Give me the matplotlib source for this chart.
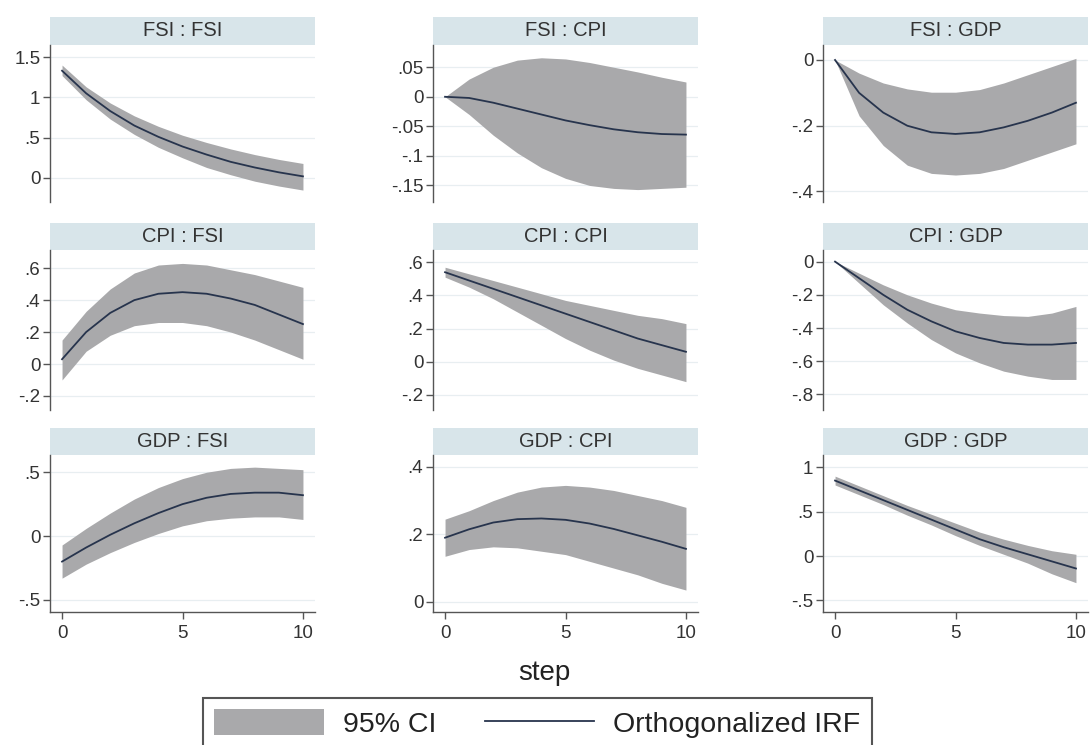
import matplotlib
matplotlib.use('Agg')
import matplotlib.pyplot as plt
from matplotlib.patches import Patch
from matplotlib.lines import Line2D

plt.rcParams['font.family'] = ['Liberation Sans', 'DejaVu Sans']

# impulse response data (steps 0..10)
steps = [0, 1, 2, 3, 4, 5, 6, 7, 8, 9, 10]

fsi_fsi_irf = [1.33, 1.05, 0.83, 0.65, 0.51, 0.39, 0.29, 0.20, 0.13, 0.07, 0.02]
fsi_fsi_lo = [1.27, 0.97, 0.73, 0.54, 0.38, 0.25, 0.13, 0.04, -0.04, -0.10, -0.15]
fsi_fsi_hi = [1.40, 1.13, 0.93, 0.77, 0.64, 0.53, 0.44, 0.36, 0.29, 0.23, 0.18]

fsi_cpi_irf = [0.0, -0.002, -0.010, -0.020, -0.030, -0.040, -0.048, -0.055, -0.060, -0.063, -0.064]
fsi_cpi_lo = [0.0, -0.030, -0.065, -0.095, -0.120, -0.138, -0.150, -0.155, -0.157, -0.155, -0.153]
fsi_cpi_hi = [0.0, 0.030, 0.050, 0.062, 0.066, 0.064, 0.058, 0.050, 0.042, 0.033, 0.025]

fsi_gdp_irf = [0.0, -0.10, -0.16, -0.20, -0.22, -0.225, -0.22, -0.205, -0.185, -0.16, -0.13]
fsi_gdp_lo = [0.0, -0.17, -0.26, -0.32, -0.345, -0.35, -0.345, -0.33, -0.305, -0.28, -0.255]
fsi_gdp_hi = [0.0, -0.04, -0.07, -0.088, -0.098, -0.098, -0.09, -0.07, -0.045, -0.02, 0.005]

cpi_fsi_irf = [0.03, 0.20, 0.32, 0.40, 0.44, 0.45, 0.44, 0.41, 0.37, 0.31, 0.25]
cpi_fsi_lo = [-0.10, 0.08, 0.18, 0.24, 0.26, 0.26, 0.24, 0.20, 0.15, 0.09, 0.03]
cpi_fsi_hi = [0.15, 0.33, 0.47, 0.57, 0.62, 0.63, 0.62, 0.59, 0.56, 0.52, 0.48]

cpi_cpi_irf = [0.54, 0.49, 0.44, 0.39, 0.34, 0.29, 0.24, 0.19, 0.14, 0.10, 0.06]
cpi_cpi_lo = [0.51, 0.45, 0.38, 0.30, 0.22, 0.14, 0.07, 0.01, -0.04, -0.08, -0.12]
cpi_cpi_hi = [0.57, 0.53, 0.49, 0.45, 0.41, 0.37, 0.34, 0.31, 0.28, 0.26, 0.23]

cpi_gdp_irf = [0.0, -0.10, -0.20, -0.29, -0.36, -0.42, -0.46, -0.49, -0.50, -0.50, -0.49]
cpi_gdp_lo = [0.0, -0.13, -0.26, -0.37, -0.47, -0.55, -0.61, -0.66, -0.69, -0.71, -0.71]
cpi_gdp_hi = [0.0, -0.07, -0.14, -0.20, -0.25, -0.29, -0.31, -0.325, -0.33, -0.31, -0.27]

gdp_fsi_irf = [-0.20, -0.09, 0.01, 0.10, 0.18, 0.25, 0.30, 0.33, 0.34, 0.34, 0.32]
gdp_fsi_lo = [-0.33, -0.22, -0.13, -0.05, 0.02, 0.08, 0.12, 0.14, 0.15, 0.15, 0.13]
gdp_fsi_hi = [-0.07, 0.06, 0.18, 0.29, 0.38, 0.45, 0.50, 0.53, 0.54, 0.53, 0.52]

gdp_cpi_irf = [0.19, 0.215, 0.235, 0.245, 0.247, 0.243, 0.232, 0.216, 0.197, 0.178, 0.157]
gdp_cpi_lo = [0.135, 0.155, 0.163, 0.16, 0.15, 0.14, 0.12, 0.10, 0.08, 0.055, 0.035]
gdp_cpi_hi = [0.245, 0.27, 0.30, 0.325, 0.34, 0.345, 0.34, 0.33, 0.315, 0.30, 0.28]

gdp_gdp_irf = [0.85, 0.74, 0.63, 0.52, 0.41, 0.30, 0.19, 0.10, 0.02, -0.06, -0.14]
gdp_gdp_lo = [0.80, 0.69, 0.58, 0.46, 0.35, 0.23, 0.12, 0.02, -0.08, -0.20, -0.30]
gdp_gdp_hi = [0.90, 0.79, 0.68, 0.57, 0.47, 0.37, 0.27, 0.19, 0.12, 0.06, 0.02]

titles = ['FSI : FSI', 'FSI : CPI', 'FSI : GDP',
          'CPI : FSI', 'CPI : CPI', 'CPI : GDP',
          'GDP : FSI', 'GDP : CPI', 'GDP : GDP']

yticks = [[1.5, 1, 0.5, 0], [0.05, 0, -0.05, -0.1, -0.15], [0, -0.2, -0.4],
          [0.6, 0.4, 0.2, 0, -0.2], [0.6, 0.4, 0.2, 0, -0.2], [0, -0.2, -0.4, -0.6, -0.8],
          [0.5, 0, -0.5], [0.4, 0.2, 0], [1, 0.5, 0, -0.5]]
xticks = [0, 5, 10]

irfs = [fsi_fsi_irf, fsi_cpi_irf, fsi_gdp_irf, cpi_fsi_irf, cpi_cpi_irf,
        cpi_gdp_irf, gdp_fsi_irf, gdp_cpi_irf, gdp_gdp_irf]
los = [fsi_fsi_lo, fsi_cpi_lo, fsi_gdp_lo, cpi_fsi_lo, cpi_cpi_lo,
       cpi_gdp_lo, gdp_fsi_lo, gdp_cpi_lo, gdp_gdp_lo]
his = [fsi_fsi_hi, fsi_cpi_hi, fsi_gdp_hi, cpi_fsi_hi, cpi_cpi_hi,
       cpi_gdp_hi, gdp_fsi_hi, gdp_cpi_hi, gdp_gdp_hi]

# layout (pixels)
W, H = 1090, 745
col_x = [50, 433, 823]
col_w = 265
row_plot = [(45, 202), (250, 410), (455, 612)]
row_strip = [(17, 45), (223, 250), (428, 455)]
ylims = [(-0.298, 1.649), (-0.178, 0.0876), (-0.432, 0.0456),
         (-0.288, 0.714), (-0.291, 0.674), (-0.894, 0.07),
         (-0.595, 0.635), (-0.03, 0.435), (-0.63, 1.138)]

band_col = '#a9a9ab'
line_col = '#27344d'
strip_col = '#d8e5ea'
axis_col = '#555555'
text_col = '#333333'


def stata_fmt(v):
    s = f'{v:g}'
    return s.replace('-0.', '-.').replace('0.', '.') if s not in ('0',) else s


def box(x0, y0, x1, y1):
    return [x0 / W, 1 - y1 / H, (x1 - x0) / W, (y1 - y0) / H]


fig = plt.figure(figsize=(W / 100, H / 100), dpi=100)

for i in range(9):
    r, c = divmod(i, 3)
    x0 = col_x[c]
    # strip header
    sax = fig.add_axes(box(x0, row_strip[r][0], x0 + col_w, row_strip[r][1]))
    sax.set_facecolor(strip_col)
    for sp in sax.spines.values():
        sp.set_visible(False)
    sax.set_xticks([])
    sax.set_yticks([])
    sax.text(0.5, 0.5, titles[i], ha='center', va='center', fontsize=14.5, color=text_col)

    ax = fig.add_axes(box(x0, row_plot[r][0], x0 + col_w, row_plot[r][1]))
    ax.fill_between(steps, los[i], his[i], color=band_col, lw=0)
    ax.plot(steps, irfs[i], color=line_col, lw=1.3)
    ax.set_xlim(-0.5, 10.5)
    ax.set_ylim(*ylims[i])
    ax.set_yticks(yticks[i])
    ax.set_yticklabels([stata_fmt(v) for v in yticks[i]])
    ax.yaxis.grid(True, color='#e8eef1', lw=0.9)
    ax.set_axisbelow(True)
    for sp in ['top', 'right']:
        ax.spines[sp].set_visible(False)
    ax.spines['left'].set_color(axis_col)
    ax.spines['left'].set_linewidth(1.0)
    ax.tick_params(axis='y', length=5, width=1.0, color=axis_col, pad=2,
                   labelsize=13.5, labelcolor=text_col)
    if r == 2:
        ax.set_xticks(xticks)
        ax.set_xticklabels([str(v) for v in xticks])
        ax.spines['bottom'].set_color(axis_col)
        ax.spines['bottom'].set_linewidth(1.0)
        ax.tick_params(axis='x', length=5, width=1.0, color=axis_col, pad=4,
                       labelsize=13.5, labelcolor=text_col)
    else:
        ax.spines['bottom'].set_visible(False)
        ax.set_xticks([])

fig.text(544 / W, 1 - 673 / H, 'step', ha='center', va='center', fontsize=20, color='#222222')

handles = [Patch(facecolor=band_col, edgecolor='none'),
           Line2D([], [], color=line_col, lw=1.3)]
leg = fig.legend(handles, ['95% CI', 'Orthogonalized IRF'], ncol=2,
                 loc='upper left', bbox_to_anchor=(203 / W, 1 - 698 / H),
                 borderaxespad=0, fontsize=20.5, handlelength=3.86, handleheight=1.0,
                 handletextpad=0.65, columnspacing=1.7, fancybox=False,
                 framealpha=1, edgecolor='#555555')
leg.get_frame().set_linewidth(1.5)
for t in leg.get_texts():
    t.set_color('#222222')

fig.savefig('out.png', dpi=100)
